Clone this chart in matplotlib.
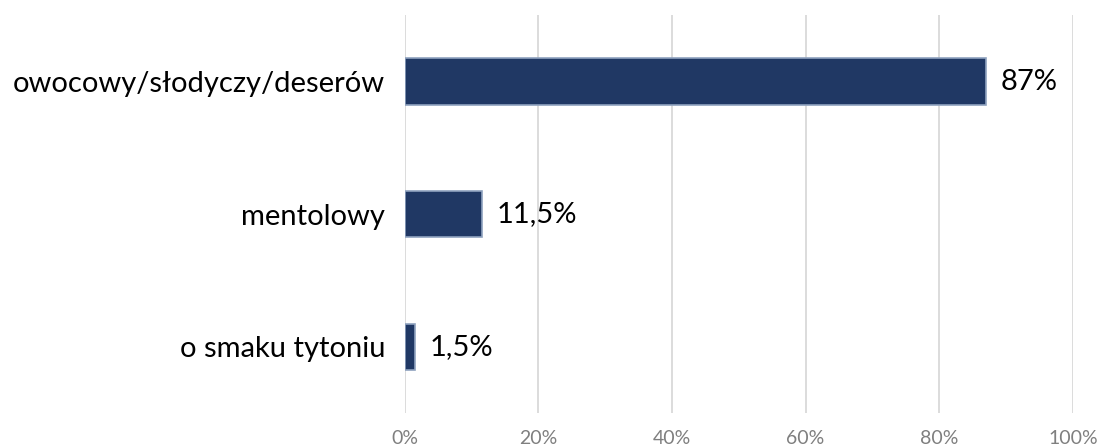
import matplotlib
matplotlib.use("Agg")
import matplotlib.pyplot as plt
from matplotlib.ticker import FuncFormatter

categories = ["owocowy/słodyczy/deserów", "mentolowy", "o smaku tytoniu"]
values = [87, 11.5, 1.5]
value_labels = ["87%", "11,5%", "1,5%"]
ticks = [0, 20, 40, 60, 80, 100]

plt.rcParams['font.family'] = ['Lato', 'DejaVu Sans']

fig = plt.figure(figsize=(11, 4.48), dpi=100)
ax = fig.add_axes([0.368, 0.078, 0.6073, 0.888])

y = list(range(len(categories)))
ax.barh(y, values, height=0.35, color="#203864", edgecolor="#8FA2BF", linewidth=1.2, zorder=3)
for yi, v, lab in zip(y, values, value_labels):
    ax.text(v + 2.2, yi, lab, va="center", ha="left", fontsize=21, color="black")

ax.set_xlim(0, 100)
ax.set_ylim(2.5, -0.5)
ax.set_yticks(y)
ax.set_yticklabels(categories, fontsize=21)
ax.set_xticks(ticks)
ax.xaxis.set_major_formatter(FuncFormatter(lambda v, p: f"{int(v)}%"))
ax.tick_params(axis="x", labelsize=14, colors="#7F7F7F", length=0, pad=12)
ax.tick_params(axis="y", length=0, pad=14, colors="black")
ax.grid(axis="x", color="#D9D9D9", linewidth=1.3, zorder=0)
for s in ax.spines.values():
    s.set_visible(False)

fig.savefig("out.png", dpi=100)
